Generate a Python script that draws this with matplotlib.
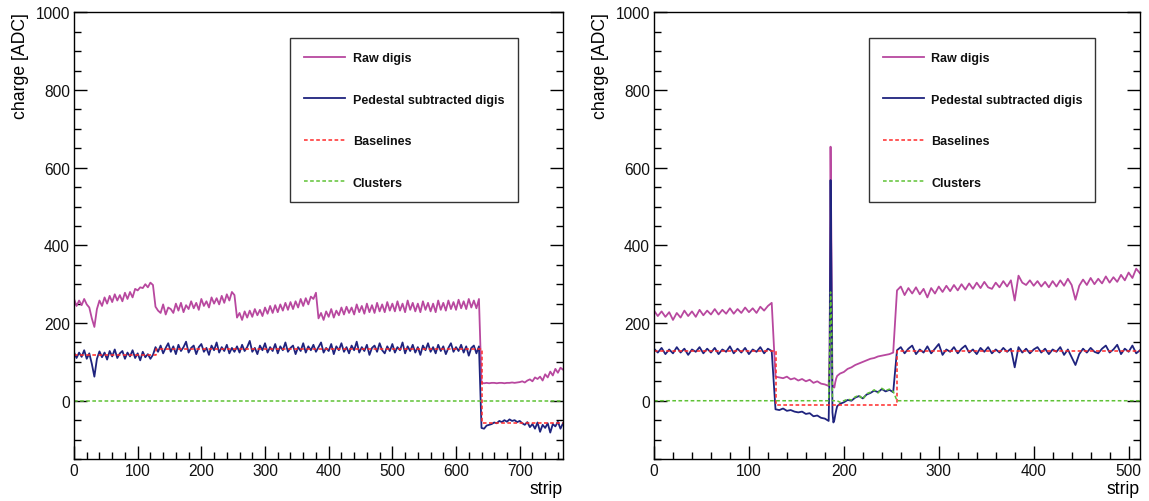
import numpy as np
import matplotlib
matplotlib.use("Agg")
import matplotlib.pyplot as plt
from matplotlib.ticker import MultipleLocator

plt.rcParams['font.family'] = ['Liberation Sans', 'DejaVu Sans']

# ---------------- data : left panel (768 strips, sampled every 4 strips) ----------------
left_strips = np.arange(0, 769, 4)
left_raw = [
    # 0-124
    262, 244, 258, 246, 262, 248, 240, 212, 190, 236, 258, 244, 266, 250, 270, 254,
    274, 258, 272, 256, 278, 262, 280, 266, 288, 284, 292, 290, 300, 292, 304, 298,
    # 128-252
    242, 232, 226, 248, 222, 240, 236, 226, 250, 232, 252, 228, 246, 236, 256, 238,
    252, 234, 262, 244, 256, 240, 266, 250, 264, 248, 270, 252, 274, 258, 280, 272,
    # 256-380
    214, 226, 208, 230, 214, 232, 216, 236, 220, 234, 218, 240, 224, 244, 226, 246,
    228, 248, 232, 252, 234, 254, 236, 256, 240, 262, 244, 264, 248, 268, 262, 278,
    # 384-636
    212, 226, 208, 230, 216, 236, 214, 232, 220, 240, 222, 242, 226, 240, 222, 248,
    228, 244, 224, 250, 228, 246, 226, 252, 230, 248, 228, 254, 232, 250, 230, 256,
    232, 250, 228, 258, 234, 252, 230, 250, 228, 256, 234, 252, 230, 250, 228, 258,
    234, 252, 232, 258, 236, 254, 234, 260, 238, 256, 236, 262, 240, 258, 238, 262,
    # 640-768
    46, 45, 46, 45, 46, 46, 45, 46, 46, 45, 46, 46, 47, 46, 47, 48,
    50, 47, 52, 55, 50, 60, 56, 62, 52, 68, 60, 75, 65, 82, 72, 85, 80,
]
left_ped = [
    # 0-124
    125, 110, 124, 113, 130, 108, 122, 95, 62, 108, 127, 112, 124, 106, 128, 114,
    132, 110, 122, 128, 108, 124, 114, 130, 110, 122, 104, 126, 112, 120, 108, 118,
    # 128-252
    138, 126, 142, 122, 136, 148, 126, 140, 120, 144, 128, 138, 152, 124, 136, 142,
    120, 138, 146, 126, 136, 118, 142, 130, 150, 124, 138, 128, 144, 122, 136, 126,
    # 256-380
    140, 124, 144, 128, 138, 154, 126, 136, 120, 142, 130, 148, 124, 138, 128, 146,
    122, 140, 130, 150, 126, 136, 142, 120, 138, 128, 148, 124, 140, 130, 144, 126,
    # 384-508
    138, 150, 124, 136, 128, 146, 120, 140, 130, 148, 126, 138, 122, 142, 130, 152,
    124, 138, 128, 144, 118, 136, 142, 126, 148, 130, 122, 140, 128, 146, 124, 138,
    # 512-636
    130, 150, 122, 140, 128, 144, 124, 138, 118, 142, 130, 148, 126, 138, 122, 144,
    128, 140, 120, 136, 148, 126, 138, 128, 144, 124, 140, 116, 136, 142, 122, 140,
    # 640-768
    -70, -72, -64, -62, -60, -56, -58, -52, -55, -50, -54, -48, -52, -50, -55, -52,
    -58, -62, -55, -68, -60, -72, -56, -80, -62, -70, -58, -82, -60, -66, -54, -72, -58,
]
left_base_edges = [0, 128, 640, 768]
left_base_values = [118, 132, -57]
left_clu_edges = [0, 768]
left_clu_values = [0, 0]

# ---------------- data : right panel (512 strips) ----------------
right_strips = np.r_[np.arange(0, 184, 4), np.arange(184, 194), np.arange(196, 513, 4)]
right_raw = [
    # 0-124
    232, 218, 230, 216, 228, 208, 226, 214, 232, 218, 230, 216, 234, 220, 232, 222,
    236, 222, 234, 224, 238, 224, 236, 226, 240, 228, 238, 226, 242, 232, 244, 252,
    # 128-180
    62, 60, 58, 62, 55, 58, 52, 56, 50, 54, 46, 50, 44, 42,
    # 184-193
    38, 120, 654, 380, 42, 36, 34, 48, 58, 64,
    # 196-252
    70, 74, 82, 86, 92, 96, 100, 104, 108, 110, 114, 116, 118, 120, 124,
    # 256-512
    284, 294, 272, 290, 276, 292, 274, 288, 266, 290, 276, 294, 280, 296, 282, 298,
    284, 300, 286, 302, 288, 304, 290, 306, 292, 288, 304, 292, 308, 294, 310, 258,
    322, 304, 298, 310, 296, 308, 294, 306, 292, 308, 294, 310, 296, 314, 298, 260,
    296, 312, 298, 316, 300, 314, 302, 320, 304, 318, 306, 324, 310, 330, 316, 340, 328,
]
right_ped = [
    # 0-124
    134, 124, 136, 120, 132, 122, 138, 124, 134, 118, 132, 126, 138, 122, 134, 124,
    136, 120, 132, 126, 140, 122, 134, 124, 136, 120, 132, 126, 138, 122, 134, 128,
    # 128-180
    -22, -24, -20, -26, -24, -28, -30, -28, -34, -32, -40, -38, -44, -46,
    # 184-193
    -52, 80, 568, 300, -30, -56, -50, -36, -24, -14,
    # 196-252
    -8, -4, 2, 0, 8, 12, 6, 16, 20, 26, 22, 30, 24, 28, 22,
    # 256-512
    130, 138, 122, 134, 142, 120, 132, 124, 140, 122, 134, 146, 118, 132, 126, 138,
    122, 134, 142, 124, 132, 120, 136, 126, 138, 122, 132, 124, 136, 126, 134, 86,
    138, 124, 134, 122, 132, 138, 124, 134, 120, 132, 126, 138, 118, 132, 112, 92,
    120, 134, 124, 136, 126, 122, 134, 142, 124, 132, 144, 120, 134, 126, 142, 122, 130,
]
right_clusters = (
    [0] * 46
    + [0, 120, 280, 200, 0, 0, 0, 0, 0, 0]
    + [-4, 0, 4, 2, 10, 14, 4, 18, 22, 28, 20, 32, 26, 30, 24]
    + [0] * 65
)
right_base_edges = [0, 128, 256, 512]
right_base_values = [129, -10, 128]

# ---------------- styling ----------------
RAW_C = '#b8489f'
PED_C = '#1f237e'
BASE_C = '#ff2a2a'
CLU_C = '#5fc236'
DASH = (2.4, 1.6)

fig = plt.figure(figsize=(11.49, 5.02), dpi=100)
ax_l = fig.add_axes([74 / 1149, 42 / 502, 489 / 1149, 446.7 / 502])
ax_r = fig.add_axes([654 / 1149, 42 / 502, 486 / 1149, 446.7 / 502])


def steps(edges, values):
    return list(edges), list(values) + [values[-1]]


def draw(ax, xs, raw, ped, bedges, bvals, cx, cy, xmax):
    l1, = ax.plot(xs, raw, color=RAW_C, lw=1.3, label='Raw digis')
    l2, = ax.plot(xs, ped, color=PED_C, lw=1.3, label='Pedestal subtracted digis')
    bx, by = steps(bedges, bvals)
    l3, = ax.plot(bx, by, drawstyle='steps-post', color=BASE_C, lw=1.1,
                  dashes=DASH, label='Baselines')
    l4, = ax.plot(cx, cy, color=CLU_C, lw=1.1, dashes=DASH, label='Clusters')
    ax.set_xlim(0, xmax)
    ax.set_ylim(-150, 1000)
    ax.xaxis.set_major_locator(MultipleLocator(100))
    ax.xaxis.set_minor_locator(MultipleLocator(20))
    ax.yaxis.set_major_locator(MultipleLocator(200))
    ax.yaxis.set_minor_locator(MultipleLocator(50))
    ax.tick_params(which='both', direction='in', left=True, right=True,
                   top=False, bottom=True, color='black', width=1.0,
                   labelsize=11.2, labelcolor='#111111')
    ax.tick_params(which='major', length=9.4, pad=3)
    ax.tick_params(which='minor', length=4.7)
    for s in ax.spines.values():
        s.set_linewidth(1.0)
        s.set_color('black')
    ax.set_ylabel('charge [ADC]', loc='top', fontsize=12.7, labelpad=5)
    ax.set_xlabel('strip', loc='right', fontsize=12.7, labelpad=1)
    leg = ax.legend(handles=[l1, l2, l3, l4], loc='upper left',
                    bbox_to_anchor=(0.442, 0.571, 0.466, 0.3706), mode='expand',
                    borderaxespad=0, fancybox=False, frameon=True,
                    prop={'weight': 'bold', 'size': 9},
                    handlelength=3.3, handletextpad=0.6, labelspacing=2.36,
                    borderpad=1.1)
    leg.get_frame().set_edgecolor('black')
    leg.get_frame().set_linewidth(1.0)
    for t in leg.get_texts():
        t.set_color('#111111')


draw(ax_l, left_strips, left_raw, left_ped, left_base_edges, left_base_values,
     left_clu_edges, left_clu_values, 768)
draw(ax_r, right_strips, right_raw, right_ped, right_base_edges, right_base_values,
     right_strips, right_clusters, 512)

fig.savefig('out.png', dpi=100)
